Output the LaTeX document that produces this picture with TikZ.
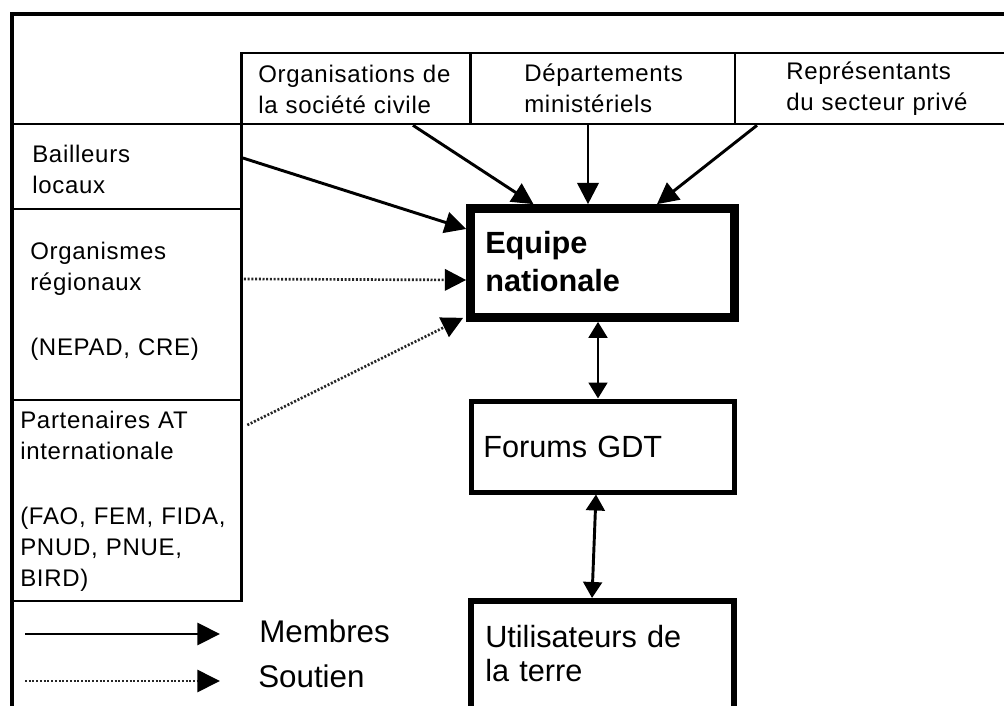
\documentclass[tikz,border=0pt]{standalone}
\usepackage{fontspec}
\setmainfont{Liberation Sans}
\newfontfamily\smallfam{Liberation Sans}[LetterSpace=3]
\usetikzlibrary{arrows.meta,calc}
\newdimen\pxu \pxu=0.75pt
\begin{document}
\begin{tikzpicture}[x=0.75pt,y=-0.75pt,
  cell/.style={draw, line width=2pt, inner sep=0pt},
  bigbox/.style={draw, inner sep=0pt},
  smalltxt/.style={font=\smallfam\fontsize{18}{23.25}\selectfont, anchor=base west, inner sep=0pt, text width=#1, align=left},
  bigtxt/.style={font=\fontsize{23}{26}\selectfont, anchor=base west, inner sep=0pt, text width=#1, align=left},
  member/.style={line width=2.2pt, -{Triangle[length=16pt,width=16pt]}},
  support/.style={line width=2pt, black!85, dash pattern=on 1.5pt off 1.3pt, -{Triangle[length=16pt,width=16pt,fill=black,color=black]}},
  both/.style={line width=2.2pt, {Triangle[length=12pt,width=14pt]}-{Triangle[length=12pt,width=14pt]}}
]
\useasboundingbox (0,0) rectangle (1004,706);
\clip (0,0) rectangle (1004,706);
% outer frame
\draw[line width=3pt] (12,740) -- (12,14.5) -- (1040,14.5);
% top cells
\node[cell, minimum width=229\pxu, minimum height=71\pxu] (org) at (356,88.5) {};
\node[cell, minimum width=264.5\pxu, minimum height=71\pxu] (dep) at (602.75,88.5) {};
\node[cell, minimum width=295\pxu, minimum height=71\pxu] (rep) at (882.5,88.5) {};
% left cells
\node[cell, minimum width=229.5\pxu, minimum height=85\pxu] (bai) at (126.75,166.5) {};
\node[cell, minimum width=229.5\pxu, minimum height=191\pxu] (reg) at (126.75,304.5) {};
\node[cell, minimum width=229.5\pxu, minimum height=201\pxu] (part) at (126.75,500.5) {};
% texts
\node[smalltxt=200\pxu] (orgT) at (258,83) {Organisations de\\la société civile};
\node[smalltxt=200\pxu] (depT) at (524,82) {Départements\\ministériels};
\node[smalltxt=200\pxu] (repT) at (786,80) {Représentants\\du secteur privé};
\node[smalltxt=200\pxu] (baiT) at (32,163) {Bailleurs\\locaux};
\node[smalltxt=200\pxu] (regT) at (30,260) {Organismes\\régionaux\\[25.5pt](NEPAD, CRE)};
\node[smalltxt=220\pxu] (partT) at (20,428) {Partenaires AT\\internationale\\[25.5pt](FAO, FEM, FIDA,\\PNUD, PNUE,\\BIRD)};
% central boxes
\node[bigbox, line width=6.5pt, minimum width=264\pxu, minimum height=109\pxu] (eq) at (602.5,263) {};
\node[bigtxt=230\pxu, font=\fontsize{23}{29}\selectfont\bfseries] (eqT) at (485,253) {Equipe\\nationale};
\node[bigbox, line width=3.75pt, minimum width=263\pxu, minimum height=91\pxu] (forum) at (602.5,446.5) {};
\node[bigtxt=230\pxu] (forumT) at (483,457) {Forums GDT};
\node[bigbox, line width=4.5pt, minimum width=263\pxu, minimum height=159\pxu] (util) at (602.5,680.5) {};
\node[bigtxt=230\pxu] (utilT) at (485,647) {Utilisateurs de\\la terre};
% connectors
\draw[member] ($(bai.east)+(0,-8.5)$) -- ($(eq.west)+(0,-34)$);
\draw[member] ($(org.south)+(57,0)$) -- ($(eq.north)+(-69,0)$);
\draw[member] ($(dep.south)+(-14.75,0)$) -- ($(eq.north)+(-14.5,0)$);
\draw[member] ($(rep.south)+(-125.5,0)$) -- ($(eq.north)+(54.5,0)$);
\draw[support] ($(reg.east)+(1,-25.5)$) -- ($(eq.west)+(0,17)$);
\draw[support] ($(part.east)+(4.5,-75.5)$) -- ($(eq.south west)+(-3,-4)$);
\draw[both] ($(eq.south)+(-4.5,0)$) -- ($(forum.north)+(-4.5,0)$);
\draw[both] ($(forum.south)+(-6.5,0)$) -- ($(util.north)+(-10.5,0)$);
% legend
\coordinate (m1) at (25,634);
\coordinate (m2) at (220,634);
\coordinate (s1) at (25,681);
\coordinate (s2) at (220,681);
\draw[member, -{Triangle[length=17pt,width=16.5pt]}] (m1) -- (m2);
\draw[support, -{Triangle[length=17pt,width=16.5pt,fill=black,color=black]}] (s1) -- (s2);
\node[bigtxt=150\pxu, font=\fontsize{23.5}{26}\selectfont] (memT) at (259,642) {Membres};
\node[bigtxt=150\pxu, font=\fontsize{23.5}{26}\selectfont] (souT) at (258,687) {Soutien};
\end{tikzpicture}
\end{document}
